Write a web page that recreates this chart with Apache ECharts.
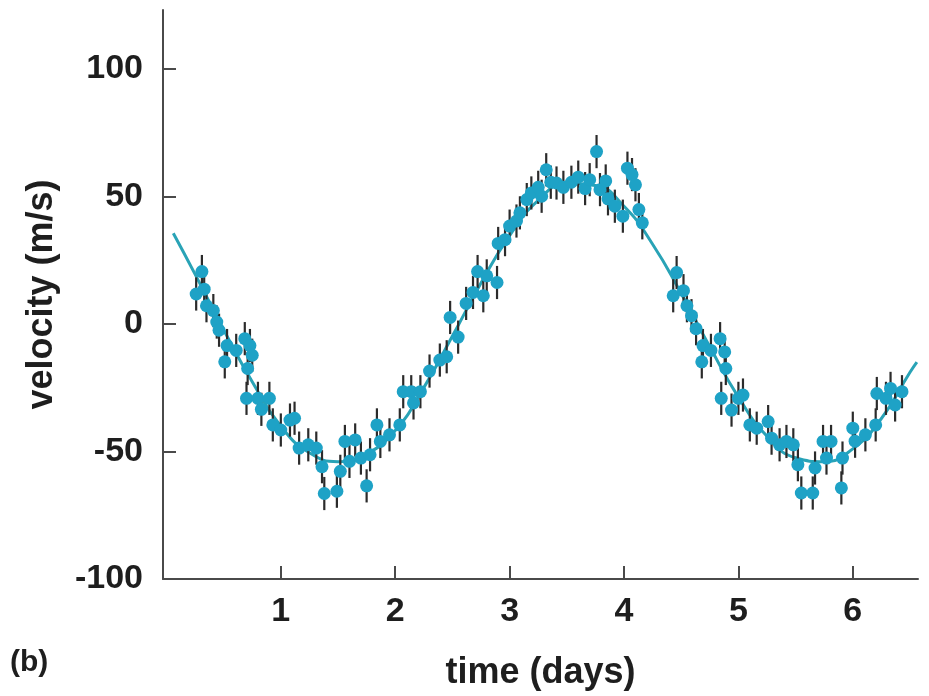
<!DOCTYPE html>
<html>
<head>
<meta charset="utf-8">
<script src="https://cdn.jsdelivr.net/npm/echarts@6/dist/echarts.min.js"></script>
<style>
html,body{margin:0;padding:0;background:#ffffff;}
#chart{width:929px;height:696px;}
</style>
</head>
<body>
<div id="chart"></div>
<script>
// ---- data ----
const obsTime = [
  0.26, 0.31, 0.33, 0.35, 0.41, 0.44, 0.46, 0.51, 0.53, 0.61, 0.685, 0.70, 0.71, 0.73, 0.75,
  0.80, 0.83, 0.90, 0.93, 1.00, 1.08, 1.12, 1.16, 1.24, 1.31, 1.36, 1.38, 1.49, 1.52, 1.56,
  1.60, 1.65, 1.70, 1.75, 1.78, 1.84, 1.87, 1.95, 2.04, 2.07, 2.14, 2.16, 2.22, 2.30, 2.39,
  2.45, 2.48, 2.55, 2.62, 2.68, 2.72, 2.77, 2.80, 2.89, 2.90, 2.96, 3.00, 3.06, 3.09, 3.15,
  3.19, 3.25, 3.28, 3.32, 3.36, 3.41, 3.47, 3.54, 3.60, 3.66, 3.70, 3.76, 3.79, 3.84, 3.86,
  3.92, 3.99, 4.03, 4.07, 4.10, 4.13, 4.16,
  4.43, 4.46, 4.52, 4.55, 4.59, 4.63, 4.68, 4.69, 4.76, 4.84, 4.85, 4.88, 4.89, 4.94, 5.00,
  5.04, 5.10, 5.16, 5.26, 5.29, 5.36, 5.42, 5.48, 5.52, 5.55, 5.65, 5.67, 5.74, 5.77, 5.81,
  5.90, 5.91, 6.00, 6.02, 6.11, 6.20, 6.21, 6.29, 6.33, 6.37, 6.43
];
const obsVelocity = [
  11.7, 20.5, 13.6, 7.1, 5.2, 0.7, -2.5, -14.9, -8.5, -10.4, -5.8, -29.2, -17.5, -8.5, -12.3,
  -29.2, -33.5, -29.2, -39.6, -41.6, -37.7, -37.0, -48.7, -47.4, -48.7, -56.0, -66.5, -65.6, -57.8, -46.1,
  -53.9, -45.5, -52.6, -63.5, -51.3, -39.6, -46.1, -43.5, -39.6, -26.6, -26.6, -31.0, -26.6, -18.5, -14.2,
  -12.9, 2.5, -5.2, 8.0, 12.3, 20.5, 11.0, 18.8, 16.2, 31.5, 33.0, 38.3, 40.3, 43.5, 48.7,
  51.3, 53.5, 50.0, 60.4, 55.5, 55.2, 53.5, 55.5, 57.5, 53.0, 56.5, 67.5, 52.6, 56.0, 49.0,
  46.1, 42.2, 61.0, 58.5, 54.5, 44.8, 39.6,
  11.0, 20.1, 13.0, 7.1, 3.2, -1.9, -14.9, -8.5, -10.4, -5.8, -29.2, -11.0, -17.5, -33.8, -29.2,
  -27.9, -39.6, -40.9, -38.3, -44.8, -47.4, -46.1, -47.4, -55.2, -66.3, -66.3, -56.5, -46.1, -52.6, -46.1,
  -64.3, -52.6, -40.9, -46.0, -43.5, -39.6, -27.3, -29.2, -25.3, -31.8, -26.6
];
const errorHalf = 6.5;   // half-length of the error bars (m/s)

const fitTime = [0.06, 0.25, 0.5, 0.75, 1.0, 1.25, 1.5, 1.75, 2.0, 2.25, 2.5, 2.75, 3.0, 3.25,
  3.5, 3.75, 4.0, 4.25, 4.5, 4.75, 5.0, 5.25, 5.5, 5.75, 6.0, 6.25, 6.5, 6.56];
const fitVelocity = [35.5, 19.5, -2.3, -22.7, -40.1, -50.5, -54.0, -51.0, -41.8, -25.0, -4.8, 16.0, 34.6, 48.4,
  55.0, 54.2, 46.1, 31.2, 11.9, -9.0, -28.7, -44.0, -52.5, -54.0, -49.0, -37.1, -19.0, -15.0];

const xTicks = [1, 2, 3, 4, 5, 6];
const yTickLabels = [-100, -50, 0, 50, 100];
const yTicks = [-50, 0, 50, 100];
const xTitle = 'time (days)';
const yTitle = 'velocity (m/s)';
const panelLabel = '(b)';

// ---- chart ----
const chart = echarts.init(document.getElementById('chart'), null, {renderer: 'canvas'});
const FONT = '"Liberation Sans", Arial, sans-serif';
const TXT = '#1e1e1e';
const DOT = '#1ea2c6';

const pts = obsTime.map((t, i) => [t, obsVelocity[i]]);
const bars = obsTime.map((t, i) => [t, obsVelocity[i] - errorHalf, obsVelocity[i] + errorHalf]);
const fit = fitTime.map((t, i) => [t, fitVelocity[i]]);

chart.setOption({
  backgroundColor: '#ffffff',
  animation: false,
  grid: {left: 163, right: 11, top: 10, bottom: 114, containLabel: false},
  xAxis: {
    type: 'value', min: -0.03, max: 6.57,
    name: xTitle, nameLocation: 'middle', nameGap: 76,
    nameTextStyle: {fontFamily: FONT, fontWeight: 'bold', fontSize: 36, color: TXT},
    axisLine: {show: true, onZero: false, lineStyle: {color: '#4a4a4a', width: 2}},
    axisTick: {show: true, inside: true, length: 13, customValues: xTicks, lineStyle: {color: '#4a4a4a', width: 2}},
    axisLabel: {customValues: xTicks, margin: 16, fontFamily: FONT, fontWeight: 'bold', fontSize: 34, color: TXT},
    splitLine: {show: false}
  },
  yAxis: {
    type: 'value', min: -100, max: 123,
    name: yTitle, nameLocation: 'middle', nameGap: 103, nameRotate: 90,
    nameTextStyle: {fontFamily: FONT, fontWeight: 'bold', fontSize: 36, color: TXT},
    axisLine: {show: true, onZero: false, lineStyle: {color: '#4a4a4a', width: 2}},
    axisTick: {show: true, inside: true, length: 13, customValues: yTicks, lineStyle: {color: '#4a4a4a', width: 2}},
    axisLabel: {customValues: yTickLabels, margin: 20, fontFamily: FONT, fontWeight: 'bold', fontSize: 34, color: TXT},
    splitLine: {show: false}
  },
  graphic: [{
    type: 'text', left: 10, top: 648,
    style: {text: panelLabel, font: 'bold 30px ' + FONT, fill: TXT}
  }],
  series: [
    {
      type: 'line', data: fit, smooth: true, showSymbol: false, symbol: 'none',
      lineStyle: {color: '#29a3b6', width: 3}, z: 1, silent: true
    },
    {
      type: 'custom', data: bars, z: 2, silent: true,
      renderItem: function (params, api) {
        const p1 = api.coord([api.value(0), api.value(1)]);
        const p2 = api.coord([api.value(0), api.value(2)]);
        return {type: 'line', shape: {x1: p1[0], y1: p1[1], x2: p2[0], y2: p2[1]},
          style: {stroke: '#2b2b2b', lineWidth: 2.2}};
      },
      encode: {x: 0, y: [1, 2]}
    },
    {
      type: 'scatter', data: pts, symbol: 'circle', symbolSize: 13, z: 3,
      itemStyle: {color: DOT, opacity: 1}
    }
  ]
});
</script>
</body>
</html>
